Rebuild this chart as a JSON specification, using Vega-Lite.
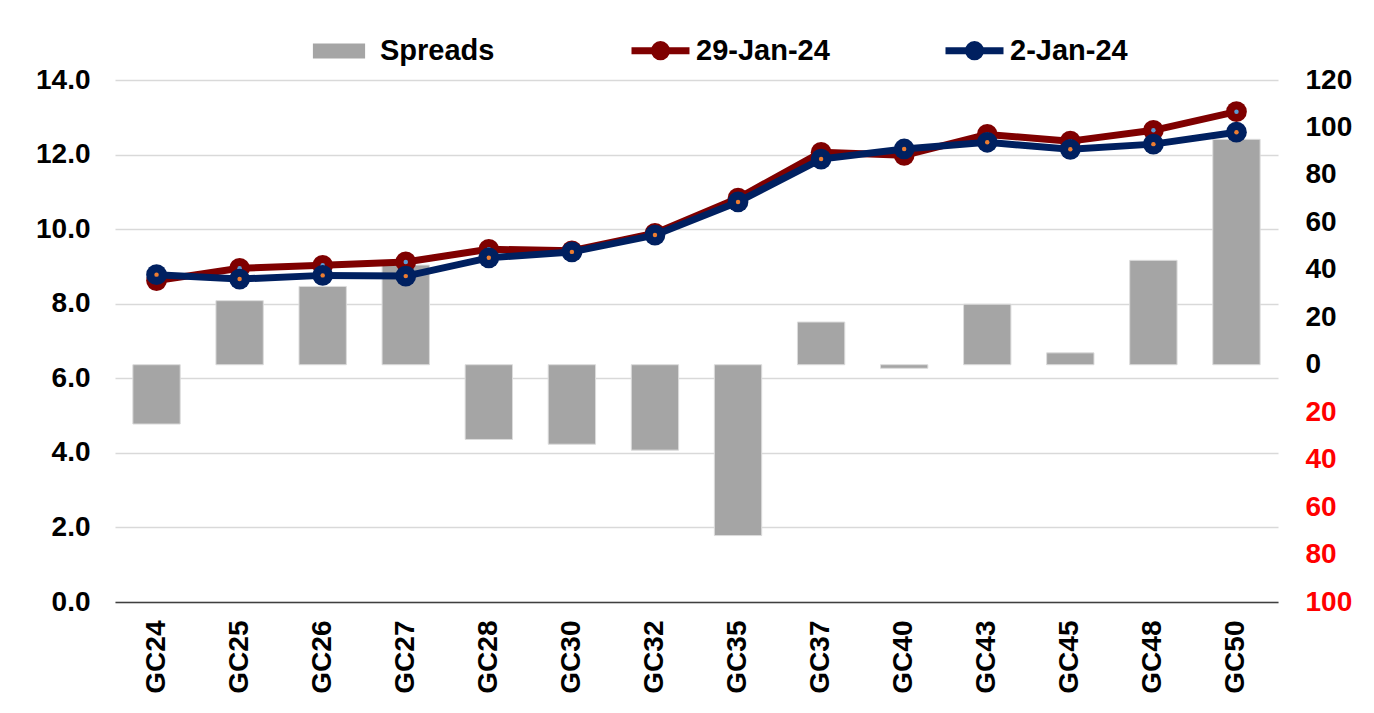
{
  "$schema": "https://vega.github.io/schema/vega-lite/v6.json",
  "width": 1163,
  "height": 522,
  "autosize": "none",
  "padding": {"left": 115, "top": 80, "right": 96, "bottom": 111},
  "background": "white",
  "config": {
    "view": {"stroke": null},
    "font": "Liberation Sans",
    "axis": {
      "labelFont": "Liberation Sans",
      "labelFontWeight": "bold",
      "labelFontSize": 28,
      "labelColor": "#000000",
      "ticks": false,
      "title": null
    },
    "legend": {
      "labelFont": "Liberation Sans",
      "labelFontWeight": "bold",
      "labelFontSize": 29,
      "labelColor": "#000000",
      "padding": 0,
      "title": null
    }
  },
  "datasets": {
    "spreads": [
      {"bond": "GC24", "spread": -25},
      {"bond": "GC25", "spread": 27},
      {"bond": "GC26", "spread": 33},
      {"bond": "GC27", "spread": 42},
      {"bond": "GC28", "spread": -31.5},
      {"bond": "GC30", "spread": -33.5},
      {"bond": "GC32", "spread": -36},
      {"bond": "GC35", "spread": -72},
      {"bond": "GC37", "spread": 18},
      {"bond": "GC40", "spread": -1.5},
      {"bond": "GC43", "spread": 25.5},
      {"bond": "GC45", "spread": 5},
      {"bond": "GC48", "spread": 44},
      {"bond": "GC50", "spread": 95}
    ],
    "yields": [
      {"bond": "GC24", "series": "29-Jan-24", "yield": 8.62},
      {"bond": "GC25", "series": "29-Jan-24", "yield": 8.95},
      {"bond": "GC26", "series": "29-Jan-24", "yield": 9.03},
      {"bond": "GC27", "series": "29-Jan-24", "yield": 9.12},
      {"bond": "GC28", "series": "29-Jan-24", "yield": 9.46},
      {"bond": "GC30", "series": "29-Jan-24", "yield": 9.42},
      {"bond": "GC32", "series": "29-Jan-24", "yield": 9.89},
      {"bond": "GC35", "series": "29-Jan-24", "yield": 10.83},
      {"bond": "GC37", "series": "29-Jan-24", "yield": 12.06},
      {"bond": "GC40", "series": "29-Jan-24", "yield": 11.98},
      {"bond": "GC43", "series": "29-Jan-24", "yield": 12.54},
      {"bond": "GC45", "series": "29-Jan-24", "yield": 12.36},
      {"bond": "GC48", "series": "29-Jan-24", "yield": 12.65},
      {"bond": "GC50", "series": "29-Jan-24", "yield": 13.15},
      {"bond": "GC24", "series": "2-Jan-24", "yield": 8.78},
      {"bond": "GC25", "series": "2-Jan-24", "yield": 8.66},
      {"bond": "GC26", "series": "2-Jan-24", "yield": 8.76},
      {"bond": "GC27", "series": "2-Jan-24", "yield": 8.74},
      {"bond": "GC28", "series": "2-Jan-24", "yield": 9.23},
      {"bond": "GC30", "series": "2-Jan-24", "yield": 9.39},
      {"bond": "GC32", "series": "2-Jan-24", "yield": 9.84},
      {"bond": "GC35", "series": "2-Jan-24", "yield": 10.73},
      {"bond": "GC37", "series": "2-Jan-24", "yield": 11.88},
      {"bond": "GC40", "series": "2-Jan-24", "yield": 12.15},
      {"bond": "GC43", "series": "2-Jan-24", "yield": 12.33},
      {"bond": "GC45", "series": "2-Jan-24", "yield": 12.14},
      {"bond": "GC48", "series": "2-Jan-24", "yield": 12.28},
      {"bond": "GC50", "series": "2-Jan-24", "yield": 12.6}
    ]
  },
  "encoding": {
    "x": {
      "field": "bond",
      "type": "nominal",
      "sort": null,
      "scale": {"paddingInner": 0.43, "paddingOuter": 0.215},
      "axis": {
        "labelAngle": -90,
        "labelPadding": 18,
        "domain": true,
        "domainColor": "#404040",
        "domainWidth": 1.5,
        "grid": false
      }
    }
  },
  "layer": [
    {
      "data": {"name": "spreads"},
      "mark": {"type": "bar", "stroke": "#dcdcdc", "strokeWidth": 1},
      "encoding": {
        "y": {
          "field": "spread",
          "type": "quantitative",
          "scale": {"domain": [-100, 120], "nice": false, "zero": false},
          "axis": {
            "orient": "right",
            "values": [-100, -80, -60, -40, -20, 0, 20, 40, 60, 80, 100, 120],
            "labelExpr": "abs(datum.value)",
            "labelPadding": 27,
            "domain": false,
            "grid": false,
            "labelColor": {"condition": {"test": "datum.value < 0", "value": "#ff0000"}, "value": "#000000"}
          }
        },
        "fill": {
          "datum": "Spreads",
          "type": "nominal",
          "scale": {"domain": ["Spreads"], "range": ["#a5a5a5"]},
          "legend": {
            "title": null,
            "orient": "none",
            "legendX": 195,
            "legendY": -58,
            "labelOffset": 12,
            "symbolSize": 3364,
            "symbolType": "M-0.9,-0.26H0.9V0.26H-0.9Z",
            "symbolStrokeWidth": 0,
            "symbolOpacity": 1
          }
        }
      }
    },
    {
      "data": {"name": "yields"},
      "encoding": {
        "y": {
          "field": "yield",
          "type": "quantitative",
          "scale": {"domain": [0, 14], "nice": false, "zero": false},
          "axis": {
            "orient": "left",
            "values": [0, 2, 4, 6, 8, 10, 12, 14],
            "format": ".1f",
            "labelPadding": 25,
            "domain": false,
            "grid": true,
            "gridColor": "#d9d9d9",
            "gridWidth": 1.5
          }
        }
      },
      "layer": [
        {
          "transform": [{"filter": "datum.series === '29-Jan-24'"}],
          "mark": {"type": "line", "strokeWidth": 7, "strokeJoin": "round", "strokeCap": "round"},
          "encoding": {
            "stroke": {
              "field": "series",
              "type": "nominal",
              "scale": {"domain": ["29-Jan-24", "2-Jan-24"], "range": ["#7f0000", "#002060"]},
              "legend": {
                "title": null,
                "orient": "none",
                "direction": "horizontal",
                "legendX": 513,
                "legendY": -62,
                "columnPadding": 101,
                "labelOffset": 3,
                "symbolSize": 3364,
                "symbolType": "M-1,0H1M-0.21,0A0.21,0.21 0 1 0 0.21,0A0.21,0.21 0 1 0 -0.21,0Z",
                "symbolStrokeWidth": 7,
                "symbolOpacity": 1,
                "encode": {
                  "symbols": {
                    "update": {
                      "fill": {"scale": "stroke", "field": "value"}
                    }
                  }
                }
              }
            }
          }
        },
        {
          "transform": [{"filter": "datum.series === '29-Jan-24'"}],
          "mark": {"type": "point", "shape": "circle", "filled": true, "size": 430, "opacity": 1},
          "encoding": {"color": {"value": "#7f0000"}}
        },
        {
          "transform": [{"filter": "datum.series === '29-Jan-24'"}],
          "mark": {"type": "point", "shape": "circle", "filled": true, "size": 20, "opacity": 1},
          "encoding": {"color": {"value": "#5b9bd5"}}
        },
        {
          "transform": [{"filter": "datum.series === '2-Jan-24'"}],
          "mark": {"type": "line", "strokeWidth": 7, "strokeJoin": "round", "strokeCap": "round"},
          "encoding": {"stroke": {"field": "series", "type": "nominal"}}
        },
        {
          "transform": [{"filter": "datum.series === '2-Jan-24'"}],
          "mark": {"type": "point", "shape": "circle", "filled": true, "size": 430, "opacity": 1},
          "encoding": {"color": {"value": "#002060"}}
        },
        {
          "transform": [{"filter": "datum.series === '2-Jan-24'"}],
          "mark": {"type": "point", "shape": "circle", "filled": true, "size": 20, "opacity": 1},
          "encoding": {"color": {"value": "#ed7d31"}}
        }
      ]
    }
  ],
  "resolve": {"scale": {"y": "independent"}}
}
